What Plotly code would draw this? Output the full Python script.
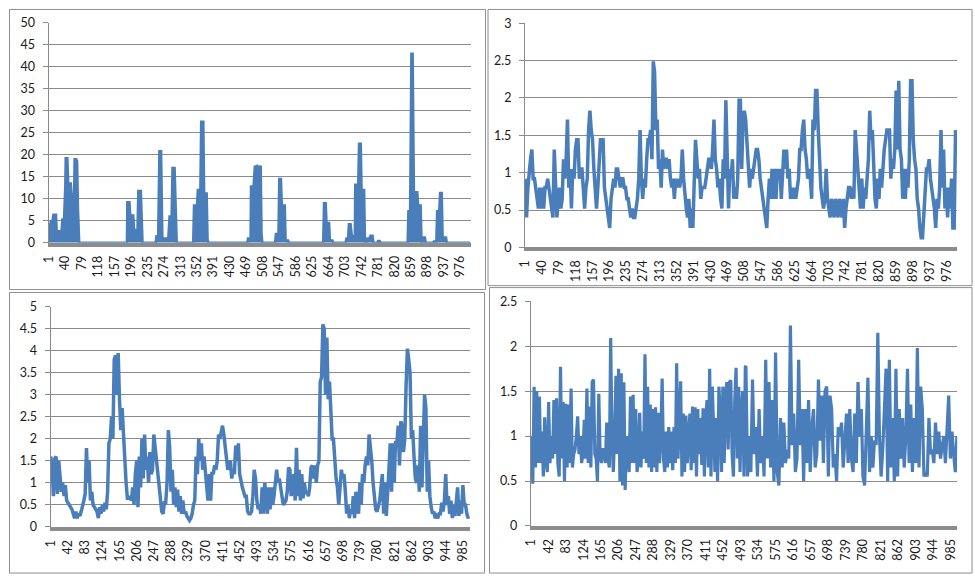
import numpy as np
import plotly.graph_objects as go

W, H = 975, 582
BLUE = "#4a7ebb"
GRID = "#8a8a8a"

# ---------------- data ----------------
# top-left: envelope of the spiky series (category index, value)
tl_idx = [1, 2, 6, 9, 12, 18, 20, 22, 24, 31, 33, 37, 40, 41, 45, 47, 53, 55, 61, 62, 66, 68, 70, 71, 73,
          186, 187, 192, 194, 201, 203, 211, 213, 219, 221, 223,
          254, 256, 260, 263, 267, 270, 284, 287, 292, 294, 299, 302, 304,
          343, 345, 352, 354, 360, 362, 367, 369, 375, 377, 379,
          471, 473, 479, 480, 486, 489, 495, 498, 503, 505, 507,
          537, 539, 545, 547, 551, 553, 560, 562, 568, 570,
          651, 653, 657, 659, 665, 667, 673, 675,
          704, 706, 710, 712, 716, 719, 726, 727, 734, 736, 740, 742, 748, 750, 755, 756, 761, 763, 768, 770, 779, 781, 785, 787,
          851, 853, 857, 860, 863, 866, 874, 876, 882, 884, 886, 887, 892, 894,
          911, 913, 919, 921, 926, 928, 932, 934, 942, 944, 1000]
tl_val = [0.5, 3.0, 5.0, 4.6, 6.4, 6.4, 2.0, 1.2, 2.6, 2.6, 5.3, 5.3, 13.0, 19.2, 19.2, 13.5, 13.5, 11.0, 11.0, 19.0, 19.0, 18.5, 8.0, 3.0, 0,
          0, 9.2, 9.2, 6.2, 6.2, 3.0, 2.8, 11.8, 11.8, 2.0, 0,
          0, 1.5, 1.5, 20.8, 20.8, 1.0, 1.0, 6.0, 6.0, 17.0, 17.0, 2.0, 0,
          0, 8.5, 8.5, 12.0, 12.0, 27.5, 27.5, 11.2, 11.2, 1.0, 0,
          0, 1.0, 1.0, 12.8, 12.8, 17.3, 17.5, 17.0, 17.5, 2.0, 0,
          0, 2.0, 2.0, 14.5, 14.5, 8.5, 8.5, 0.5, 0.5, 0,
          0, 9.0, 9.0, 4.5, 4.5, 0.5, 0.5, 0,
          0, 1.0, 1.0, 4.2, 4.2, 1.5, 1.5, 13.2, 13.2, 22.5, 22.5, 12.0, 12.0, 0.3, 0.3, 1.0, 1.0, 1.6, 1.6, 0, 0, 0.4, 0.4, 0,
          0, 7.2, 7.2, 43.0, 43.0, 11.5, 11.5, 8.5, 8.5, 0.3, 0.3, 1.2, 1.2, 0,
          0, 0.3, 0.3, 7.2, 7.2, 11.3, 11.3, 1.2, 1.2, 0, 0]

# top-right series (evenly spaced readings across categories 1..997)
tr_val = [
    0.92, 0.4, 0.8, 1.05, 1.18, 1.31, 0.92, 0.92, 0.8, 0.65,
    0.52, 0.8, 0.52, 0.8, 0.52, 0.8, 0.8, 0.92, 0.8, 0.65,
    0.52, 0.4, 1.31, 0.65, 0.4, 0.65, 0.8, 0.52, 0.65, 1.18,
    0.92, 1.18, 1.71, 0.8, 1.05, 0.52, 1.05, 0.92, 1.31, 1.44,
    1.44, 0.92, 1.05, 1.05, 0.8, 0.52, 0.8, 0.92, 1.57, 1.83,
    1.57, 1.44, 1.05, 0.8, 0.52, 0.8, 1.05, 1.44, 1.44, 1.44,
    0.8, 0.65, 0.52, 0.4, 0.26, 0.65, 0.8, 0.92, 0.8, 1.05,
    1.05, 0.92, 0.8, 0.92, 0.92, 0.8, 0.8, 0.65, 0.65, 0.52,
    0.4, 0.52, 0.4, 0.4, 0.52, 0.65, 0.92, 1.57, 0.92, 0.65,
    0.92, 0.8, 1.18, 1.44, 1.44, 1.57, 1.18, 2.49, 2.35, 1.57,
    1.71, 1.05, 1.18, 0.8, 1.31, 1.05, 1.18, 1.18, 1.05, 1.18,
    0.92, 0.8, 0.92, 0.65, 0.92, 0.8, 0.92, 0.8, 0.92, 1.31,
    0.92, 0.65, 0.52, 0.4, 0.65, 0.26, 0.52, 0.26, 0.92, 1.44,
    1.18, 0.92, 1.05, 0.65, 0.8, 0.8, 0.8, 0.92, 1.05, 1.18,
    1.18, 1.05, 1.31, 1.71, 1.18, 1.05, 0.8, 0.92, 0.65, 0.52,
    1.18, 0.92, 1.97, 1.05, 0.52, 1.05, 0.92, 1.18, 0.65, 0.8,
    0.65, 0.92, 1.97, 1.97, 1.05, 1.71, 1.83,
    1.71, 1.44, 1.05, 0.8, 1.05, 0.92, 1.05, 1.18, 1.31, 1.31,
    1.18, 0.92, 0.8, 0.65, 0.52, 0.4, 0.26, 0.65, 0.92, 0.65,
    1.05, 0.65, 1.05, 0.65, 1.05, 0.92, 1.05, 0.65, 0.92, 1.31,
    1.05, 1.31, 0.92, 1.05, 0.65, 0.8, 0.65, 0.8, 0.65, 0.8,
    0.92, 1.31, 1.31, 1.57, 1.71, 1.31, 1.18, 0.92, 1.05, 0.92,
    0.65, 1.71, 1.57, 2.1, 2.1, 1.57, 1.05, 0.8, 0.65, 0.52,
    0.65, 1.05, 0.65, 0.52, 0.4, 0.65, 0.52, 0.4, 0.65, 0.52,
    0.4, 0.65, 0.52, 0.4, 0.65, 0.26, 0.52, 0.65, 0.8, 0.8,
    0.65, 0.8, 0.65, 1.57, 1.31, 0.92, 0.8, 0.52, 0.92, 0.52,
    0.8, 0.65, 0.92, 1.18, 1.83, 1.44, 1.57, 1.05, 0.65, 0.52,
    0.92, 0.65, 1.05, 0.8, 1.18, 1.31, 1.44, 1.57, 1.57, 1.57,
    0.92, 1.18, 1.05, 1.31, 2.1, 1.31, 2.23, 1.31, 1.18, 0.65,
    1.05, 0.65, 1.05, 0.8, 1.18, 2.23, 2.23, 1.44, 1.18, 1.05,
    0.65, 0.52, 0.26, 0.13, 0.13, 0.4, 0.65, 1.05, 1.05, 1.18,
    0.92, 0.8, 0.65, 0.52, 0.26, 0.65, 0.52, 0.8, 1.57, 0.8,
    1.31, 0.52, 0.8, 0.4, 0.8, 0.52, 0.92, 0.26, 0.26, 1.57,
]

# bottom-left series (evenly spaced readings across categories 1..1000)
bl_val = [
    1.6, 1.3, 0.7, 1.55, 1.6, 0.75, 1.5, 1.2, 0.8, 1.0,
    0.7, 0.95, 0.6, 0.55, 0.5, 0.45, 0.4, 0.3, 0.2, 0.35,
    0.2, 0.3, 0.25, 0.35, 0.45, 0.6, 0.75, 1.79, 1.0, 1.5,
    0.6, 0.8, 0.5, 0.45, 0.4, 0.35, 0.2, 0.45, 0.3, 0.5,
    0.35, 0.55, 0.4, 0.8, 1.9, 2.0, 2.5, 2.0, 3.8, 3.9,
    3.0, 3.95, 2.9, 2.2, 2.7, 2.0, 1.3, 1.0, 0.65, 0.65,
    0.7, 0.6, 0.9, 0.5, 1.2, 1.5, 0.45, 1.6, 0.9, 2.0,
    1.1, 2.1, 1.3, 1.6, 1.0, 1.7, 1.2, 1.3, 2.1, 1.8,
    1.5, 1.1, 0.8, 0.5, 0.35, 0.3, 0.55, 0.55, 1.0, 2.2,
    1.8, 0.8, 1.3, 0.5, 0.9, 0.45, 0.85, 0.35, 0.7, 0.3,
    0.6, 0.3, 0.35, 0.25, 0.2, 0.15, 0.2, 0.3, 0.5, 0.6,
    1.6, 1.2, 2.0, 1.5, 1.9, 1.3, 1.6, 1.3, 0.9, 0.6,
    1.2, 0.6, 1.25, 1.2, 1.4, 1.3, 1.5, 2.1, 2.0, 2.2,
    2.3, 2.1, 1.8, 1.5, 1.3, 1.4, 1.5, 1.1, 1.3, 1.2,
    1.85, 1.5, 1.9, 1.2, 1.0, 0.9, 0.8, 0.7, 0.7, 0.35,
    0.3, 0.3, 0.35, 0.7, 1.3, 1.1, 0.6, 0.4, 0.5, 0.3,
    0.9, 0.3, 1.0, 0.6, 0.3, 0.9, 0.4, 0.9, 0.5, 0.7,
    1.1, 1.3, 1.0, 1.1, 0.9, 0.7, 0.5, 0.55, 0.6, 0.8,
    1.35, 1.3, 0.7, 1.0, 1.2, 0.6, 1.8, 0.7, 1.3, 0.6,
    1.2, 0.65, 1.0, 0.75, 0.8, 0.7, 0.9, 1.35, 1.4, 1.1,
    1.4, 1.0, 1.4, 1.5, 3.3, 3.4, 4.6, 4.5, 3.0, 4.3,
    2.9, 3.3, 2.6, 2.0, 2.0, 1.5, 1.1, 0.9, 0.5, 0.9,
    1.3, 1.1, 1.2, 0.8, 0.3, 0.5, 0.2, 0.4, 0.3, 0.7,
    0.2, 0.8, 0.5, 0.3, 1.0, 0.5, 1.2, 1.0, 1.4, 1.6,
    1.4, 2.1, 1.8, 1.5, 1.0, 0.6, 0.4, 0.35, 0.5, 0.6,
    0.9, 1.2, 0.3, 1.0, 0.25, 1.0, 1.3, 1.9, 0.8, 1.9,
    1.0, 1.95, 1.9, 2.3, 1.4, 2.4, 2.3, 1.7, 2.0, 3.2,
    4.05, 3.8, 3.5, 2.0, 2.2, 1.6, 1.1, 1.0, 1.4, 0.8,
    2.3, 0.9, 2.0, 3.0, 2.7, 0.8, 1.5, 0.7, 0.45, 0.3,
    0.35, 0.2, 0.25, 0.2, 0.3, 0.3, 0.55, 0.35, 0.6, 1.2,
    0.5, 0.7, 0.3, 0.6, 0.2, 0.5, 0.25, 0.5, 0.9, 0.25,
    0.6, 0.3, 0.95, 0.5, 0.5, 0.3, 0.2, 0.25,
]

# bottom-right series, first half (categories ~2..504) and second half (~505..1000)
br_val_a = [
    1.0, 0.47, 1.55, 0.65, 1.5, 0.7, 1.44, 0.7, 1.05, 0.55,
    1.21, 0.75, 0.6, 1.38, 0.7, 1.0, 0.75, 1.4, 0.8, 1.42,
    0.7, 0.55, 1.77, 0.75, 1.38, 0.5, 1.36, 0.65, 1.35, 0.7,
    1.53, 0.65, 0.8, 0.85, 1.0, 1.22, 0.8, 1.0, 0.7, 0.8,
    1.18, 0.75, 1.53, 0.7, 1.33, 0.65, 1.6, 1.63, 0.8, 0.75,
    0.5, 1.47, 0.8, 0.7, 0.85, 0.85, 0.7, 1.15, 0.75, 0.65,
    2.09, 1.0, 0.6, 1.0, 1.67, 0.8, 1.75, 0.5, 1.7, 0.45,
    1.6, 0.4, 1.0, 0.8, 0.6, 1.44, 0.7, 1.46, 0.7, 1.3,
    0.6, 0.75, 1.26, 0.65, 1.05, 0.75, 1.91, 0.7, 1.55, 0.65,
    1.35, 0.6, 1.3, 0.65, 1.32, 0.6, 1.26, 0.7, 1.0, 1.64,
    0.75, 0.6, 1.05, 0.65, 1.1, 0.7, 1.05, 0.62, 1.1, 0.7,
    1.81, 0.75, 1.08, 1.61, 0.55, 1.25, 0.6, 1.23, 0.7, 1.0,
    1.25, 0.62, 1.33, 0.7, 1.32, 0.55, 1.3, 0.8, 1.2, 0.68,
    1.31, 0.55, 1.2, 1.4, 0.65, 1.75, 0.55, 1.55, 0.9, 0.6,
    1.2, 0.5, 1.55, 1.25, 0.6, 1.55, 0.7, 1.45, 1.6, 0.85,
    1.6, 1.62, 0.8, 0.55, 1.4, 1.76, 0.75, 1.55, 0.6, 1.3,
    1.5, 0.55, 1.77,
]
br_val_b = [
    1.78, 0.55, 1.0, 0.6, 1.63, 0.8, 1.1, 0.55, 1.3, 0.7,
    1.0, 0.55, 1.85, 0.75, 1.6, 0.65, 1.4, 0.5, 1.93, 0.6,
    0.45, 1.2, 0.65, 1.15, 0.7, 0.85, 0.75, 2.23, 0.9, 1.25,
    0.6, 0.75, 1.85, 0.9, 1.3, 0.5, 1.3, 0.7, 1.4, 0.6,
    1.1, 1.3, 0.65, 0.8, 1.63, 0.95, 1.45, 0.7, 1.5, 1.55,
    0.55, 1.45, 1.3, 0.65, 0.8, 0.5, 1.1, 1.0, 1.15, 0.65,
    0.9, 1.25, 0.7, 1.3, 0.75, 0.6, 1.25, 0.7, 1.6, 1.0,
    1.3, 0.55, 0.45, 1.15, 1.65, 0.6, 1.0, 0.65, 0.95, 0.9,
    2.15, 1.0, 0.55, 0.85, 1.3, 1.75, 0.5, 1.85, 0.65, 1.2,
    0.5, 1.75, 0.55, 1.3, 0.75, 1.2, 0.65, 1.0, 1.75, 0.7,
    1.35, 0.6, 1.2, 0.7, 1.98, 0.65, 1.55, 1.3, 0.55, 0.6,
    0.55, 1.2, 0.8, 0.85, 0.7, 1.15, 0.8, 1.05, 0.75, 0.9,
    1.0, 0.7, 1.1, 1.45, 0.75, 1.05, 0.8, 0.6, 1.0,
]

# category tick labels
ticks_39 = list(range(1, 1001, 39))   # 1, 40, 79, ..., 976
ticks_41 = list(range(1, 1001, 41))   # 1, 42, 83, ..., 985

# ---------------- layout helpers ----------------
def xdom(l, r):
    return [l / W, r / W]

def ydom(top, bottom):
    return [1 - bottom / H, 1 - top / H]

fig = go.Figure()

fig.add_trace(go.Scatter(x=tl_idx, y=tl_val, mode="lines", fill="tozeroy",
                         fillcolor=BLUE, line=dict(color=BLUE, width=2.5),
                         xaxis="x", yaxis="y", hoverinfo="skip"))
fig.add_trace(go.Scatter(x=np.linspace(1.3, 996.7, len(tr_val)), y=tr_val, mode="lines",
                         line=dict(color=BLUE, width=3.5), xaxis="x2", yaxis="y2", hoverinfo="skip"))
fig.add_trace(go.Scatter(x=np.linspace(1, 1000, len(bl_val)), y=bl_val, mode="lines",
                         line=dict(color=BLUE, width=3.5), xaxis="x3", yaxis="y3", hoverinfo="skip"))
br_x = np.concatenate([np.linspace(2, 503.6, len(br_val_a)), np.linspace(505, 1000, len(br_val_b))])
fig.add_trace(go.Scatter(x=br_x, y=br_val_a + br_val_b, mode="lines",
                         line=dict(color=BLUE, width=3.2), xaxis="x4", yaxis="y4", hoverinfo="skip"))

FONT = dict(family="Lato, 'Open Sans', sans-serif", size=12.5, color="#1a1a1a")

def xaxis(dom, anchor, tv):
    return dict(domain=dom, anchor=anchor, range=[0.5, 1000.5],
                tickmode="array", tickvals=tv, ticktext=[str(t) for t in tv],
                tickangle=-90, showgrid=False, zeroline=False,
                showline=True, linecolor="#8c8c8c", linewidth=4, ticks="",
                ticklabelstandoff=4, tickfont=FONT, fixedrange=True)

def yaxis(dom, anchor, top, dt):
    return dict(domain=dom, anchor=anchor, range=[0, top], dtick=dt, tick0=0,
                showgrid=True, gridcolor=GRID, gridwidth=1, zeroline=False,
                showline=True, linecolor=GRID, linewidth=1,
                ticks="outside", ticklen=5, tickcolor=GRID,
                ticklabelstandoff=5, tickfont=FONT, fixedrange=True)

fig.update_layout(
    width=W, height=H, margin=dict(l=0, r=0, t=0, b=0),
    paper_bgcolor="white", plot_bgcolor="white", showlegend=False,
    xaxis=xaxis(xdom(41, 467), "y", ticks_39),
    yaxis=yaxis(ydom(15.3, 241), "x", 50, 5),
    xaxis2=xaxis(xdom(521.7, 958), "y2", ticks_39),
    yaxis2=yaxis(ydom(15.7, 245.7), "x2", 3, 0.5),
    xaxis3=xaxis(xdom(43, 466), "y3", ticks_41),
    yaxis3=yaxis(ydom(306.7, 532.7), "x3", 5, 0.5),
    xaxis4=xaxis(xdom(527.7, 958), "y4", ticks_41),
    yaxis4=yaxis(ydom(301, 531.7), "x4", 2.5, 0.5),
)

# chart-area borders
for (x0, y0, x1, y1) in [(1.5, 1.5, 482, 289), (484.5, 1.5, 973, 285),
                         (1.5, 292, 481, 580), (486, 287, 973, 580)]:
    fig.add_shape(type="rect", xref="paper", yref="paper",
                  x0=x0 / W, x1=x1 / W, y0=1 - y0 / H, y1=1 - y1 / H,
                  line=dict(color="#8e8e8e", width=1), fillcolor="rgba(0,0,0,0)")

fig.write_html("out.html")
